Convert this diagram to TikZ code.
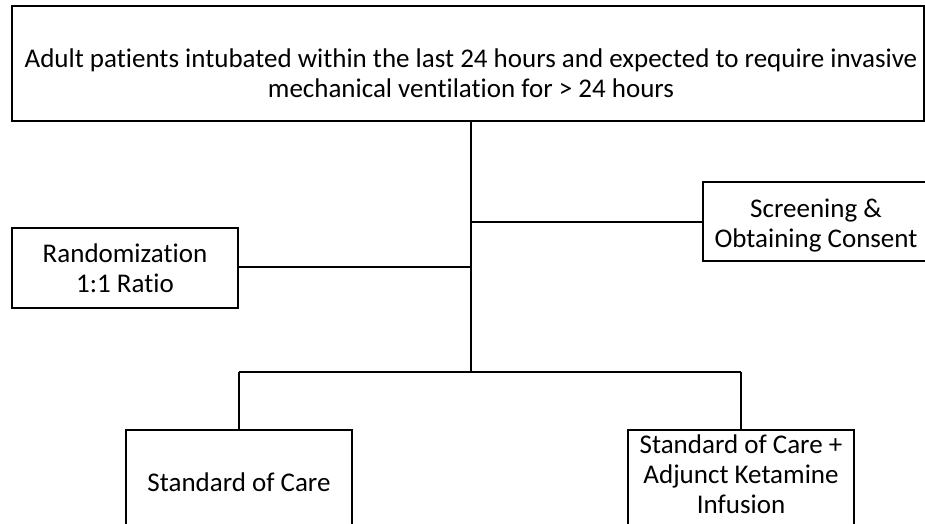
\documentclass[tikz,border=0pt]{standalone}
\usepackage{fontspec}
\setmainfont[Ligatures=NoCommon]{Carlito}
% centred lines of text, shifted vertically, taking no room of their own
\newcommand\boxlines[2]{\raisebox{#1}[0pt][0pt]{\begin{tabular}{@{}c@{}}#2\end{tabular}}}
\begin{document}
\begin{tikzpicture}[x=1pt,y=-1pt,
  box/.style={draw, line width=1.2pt, inner sep=0pt,
    font=\fontsize{27}{30}\selectfont},
  link/.style={line width=1.2pt}]
\useasboundingbox (0,0) rectangle (925,523);
\clip (0,0) rectangle (925,523);
% boxes
\node[box, minimum width=912pt, minimum height=115pt] (pop) at (468,63.5)
  {\hspace*{6pt}\boxlines{-18.9pt}{Adult patients intubated within the last 24 hours and expected to require invasive\\mechanical ventilation for > 24 hours}};
\node[box, minimum width=226pt, minimum height=79pt] (screen) at (816,221.5)
  {\boxlines{-11.4pt}{Screening \&\\Obtaining Consent}};
\node[box, minimum width=226pt, minimum height=80pt] (rand) at (125,268)
  {\boxlines{-9.4pt}{Randomization\\1:1 Ratio}};
\node[box, minimum width=226pt, minimum height=104pt] (soc) at (239,482)
  {\boxlines{-9.4pt}{Standard of Care}};
\node[box, minimum width=226pt, minimum height=104pt] (ket) at (741,482)
  {\boxlines{-1.4pt}{Standard of Care +\\Adjunct Ketamine\\Infusion}};
% junctions on the trunk
\coordinate (jscr) at (471,222);
\coordinate (jrand) at (471,267);
\coordinate (jarm) at (471,372);
% connectors
\draw[link] (pop.south -| jarm) -- (jarm);
\draw[link] (jscr) -- (screen.west |- jscr);
\draw[link] (jrand) -- (rand.east |- jrand);
\draw[link] (soc.north |- jarm) -- (ket.north |- jarm);
\draw[link] (soc.north |- jarm) -- (soc.north);
\draw[link] (ket.north |- jarm) -- (ket.north);
\end{tikzpicture}
\end{document}
